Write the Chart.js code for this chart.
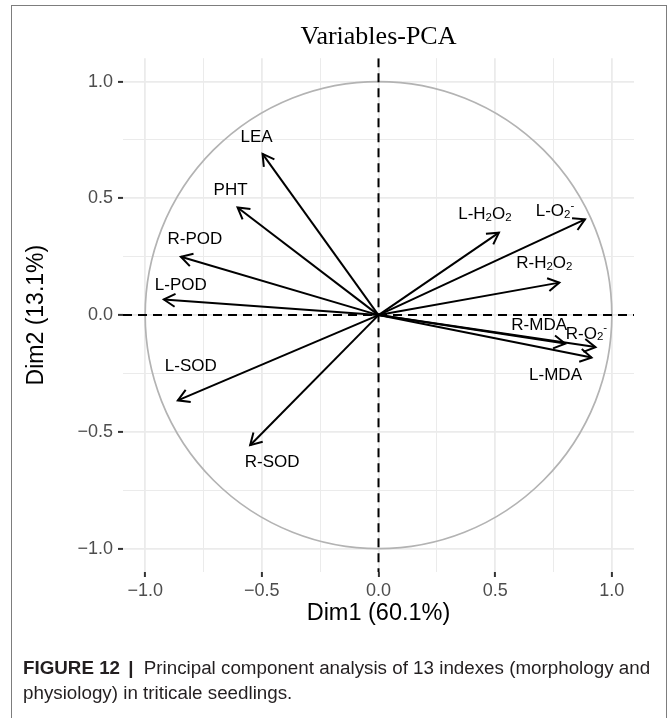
<!DOCTYPE html>
<html>
<head>
<meta charset="utf-8">
<script src="https://cdn.jsdelivr.net/npm/chart.js@4.4.1/dist/chart.umd.min.js"></script>
<style>
html,body{margin:0;padding:0;background:#fff;}
#wrap{position:relative;width:668px;height:718px;overflow:hidden;background:#fff;}
#c{position:absolute;left:0;top:0;}
#frame{position:absolute;left:11px;top:5px;width:656px;height:740px;border:1.5px solid #7d7d7d;border-bottom:none;box-sizing:border-box;pointer-events:none;}
#cap{position:absolute;left:23px;top:655px;width:645px;font-family:'Liberation Sans',Arial,sans-serif;font-size:18.8px;line-height:25px;color:#231f20;white-space:nowrap;}
#cap b{font-weight:bold;}
#cap .bar{margin:0 5px 0 3px;}
</style>
</head>
<body>
<div id="wrap">
  <canvas id="c" width="668" height="630"></canvas>
  <div id="frame"></div>
  <div id="cap"><b>FIGURE 12</b> <b class="bar">|</b> Principal component analysis of 13 indexes (morphology and<br>physiology) in triticale seedlings.</div>
</div>
<script>
// ---- data ----
const variables = ['LEA','PHT','R-POD','L-POD','L-SOD','R-SOD','L-H_2O_2','L-O_2^-','R-H_2O_2','R-MDA','R-O_2^-','L-MDA'];
const dim1 = [-0.497,-0.604,-0.847,-0.920,-0.860,-0.550,0.516,0.885,0.775,0.800,0.930,0.913];
const dim2 = [0.690,0.461,0.250,0.067,-0.365,-0.557,0.353,0.410,0.139,-0.122,-0.137,-0.182];
const tickValues = [-1,-0.75,-0.5,-0.25,0,0.25,0.5,0.75,1];
const majorTicks = [-1,-0.5,0,0.5,1];
const titleText = 'Variables-PCA';
const xTitle = 'Dim1 (60.1%)';
const yTitle = 'Dim2 (13.1%)';

// ---- layout / style ----
const labelOffsets = [[-6,-17],[-7,-17],[14,-17],[17,-14],[13,-34],[22,17],[-14,-18],[-30,-8],[-15,-19],[-26,-18],[-9,-13],[-36,18]];
const isMajor = v => majorTicks.indexOf(v) >= 0;
const fmt = v => isMajor(v) ? (v < 0 ? '\u2212' : '') + Math.abs(v).toFixed(1) : '';

function parseRich(s){
  const out=[];let i=0;
  while(i<s.length){
    const ch=s[i];
    if(ch==='_'){out.push({t:s[i+1],m:'sub'});i+=2;}
    else if(ch==='^'){out.push({t:s[i+1],m:'sup'});i+=2;}
    else{ if(out.length&&out[out.length-1].m==='n'){out[out.length-1].t+=ch;} else out.push({t:ch,m:'n'}); i++;}
  }
  return out;
}

const pcaPlugin = {
  id:'pca',
  beforeDatasetsDraw(chart){
    const {ctx, chartArea:a, scales:{x,y}} = chart;
    ctx.save();
    ctx.beginPath(); ctx.rect(a.left,a.top,a.width,a.height); ctx.clip();
    const cx=x.getPixelForValue(0), cy=y.getPixelForValue(0);
    const rx=x.getPixelForValue(1)-cx, ry=cy-y.getPixelForValue(1);
    ctx.strokeStyle='#b3b3b3'; ctx.lineWidth=1.7;
    ctx.beginPath(); ctx.ellipse(cx,cy,rx,ry,0,0,Math.PI*2); ctx.stroke();
    ctx.strokeStyle='#000'; ctx.lineWidth=2; ctx.setLineDash([9,6]);
    ctx.beginPath(); ctx.moveTo(a.left,cy); ctx.lineTo(a.right,cy); ctx.stroke();
    ctx.beginPath(); ctx.moveTo(cx,a.top); ctx.lineTo(cx,a.bottom); ctx.stroke();
    ctx.restore();
  },
  afterDatasetsDraw(chart){
    const {ctx, scales:{x,y}} = chart;
    const cx=x.getPixelForValue(0), cy=y.getPixelForValue(0);
    ctx.save();
    ctx.strokeStyle='#000'; ctx.lineWidth=2; ctx.lineCap='butt'; ctx.lineJoin='miter';
    for(let i=0;i<variables.length;i++){
      const px=x.getPixelForValue(dim1[i]), py=y.getPixelForValue(dim2[i]);
      const ang=Math.atan2(py-cy,px-cx), L=13, h=Math.PI/6;
      ctx.beginPath();
      ctx.moveTo(px-L*Math.cos(ang-h),py-L*Math.sin(ang-h));
      ctx.lineTo(px,py);
      ctx.lineTo(px-L*Math.cos(ang+h),py-L*Math.sin(ang+h));
      ctx.stroke();
      const segs=parseRich(variables[i]);
      const fN='17px "Liberation Sans", Arial, sans-serif', fS='11.5px "Liberation Sans", Arial, sans-serif';
      let w=0;
      segs.forEach(s=>{ctx.font=s.m==='n'?fN:fS; s.w=ctx.measureText(s.t).width; w+=s.w;});
      let tx=px+labelOffsets[i][0]-w/2; const ty=py+labelOffsets[i][1];
      ctx.fillStyle='#000'; ctx.textBaseline='middle'; ctx.textAlign='left';
      segs.forEach(s=>{
        ctx.font=s.m==='n'?fN:fS;
        const dy=s.m==='sub'?3:(s.m==='sup'?-6:0);
        ctx.fillText(s.t,tx,ty+dy); tx+=s.w;
      });
    }
    ctx.restore();
  }
};

const datasets = variables.map((v,i)=>({
  label:v, type:'line',
  data:[{x:0,y:0},{x:dim1[i],y:dim2[i]}],
  borderColor:'#000', borderWidth:2, pointRadius:0, fill:false, tension:0
}));

const tickFont={family:'"Liberation Sans", Arial, sans-serif', size:18};
const gridOpts={
  color:'#ebebeb',
  lineWidth:c=>isMajor(c.tick.value)?1.8:1.0,
  tickColor:c=>isMajor(c.tick.value)?'#333333':'rgba(0,0,0,0)',
  tickWidth:c=>isMajor(c.tick.value)?2:0,
  tickLength:5, drawTicks:true, drawOnChartArea:true
};

new Chart(document.getElementById('c'),{
  type:'scatter',
  data:{datasets},
  plugins:[pcaPlugin],
  options:{
    responsive:false, animation:false, devicePixelRatio:1,
    layout:{padding:{left:20,right:34,top:0,bottom:0}},
    plugins:{
      legend:{display:false}, tooltip:{enabled:false},
      title:{display:true,text:titleText,color:'#000',fullSize:false,
        font:{family:'"Liberation Serif", "Times New Roman", serif',size:26,weight:'normal'},
        padding:{top:22,bottom:5}}
    },
    scales:{
      x:{type:'linear',min:-1.095,max:1.095,
        afterBuildTicks:s=>{s.ticks=tickValues.map(v=>({value:v}));},
        afterFit:s=>{s.height=58;},
        ticks:{callback:v=>fmt(v),color:'#4d4d4d',font:tickFont,padding:3,autoSkip:false,maxRotation:0},
        grid:gridOpts, border:{display:false},
        title:{display:true,text:xTitle,color:'#000',font:{family:'"Liberation Sans", Arial, sans-serif',size:23.5},padding:{top:0,bottom:2}}
      },
      y:{type:'linear',min:-1.1,max:1.1,
        afterBuildTicks:s=>{s.ticks=tickValues.map(v=>({value:v}));},
        afterFit:s=>{s.width=103;},
        ticks:{callback:v=>fmt(v),color:'#4d4d4d',font:tickFont,padding:5,autoSkip:false},
        grid:gridOpts, border:{display:false},
        title:{display:true,text:yTitle,color:'#000',font:{family:'"Liberation Sans", Arial, sans-serif',size:23},padding:{top:3,bottom:0}}
      }
    }
  }
});
</script>
</body>
</html>
